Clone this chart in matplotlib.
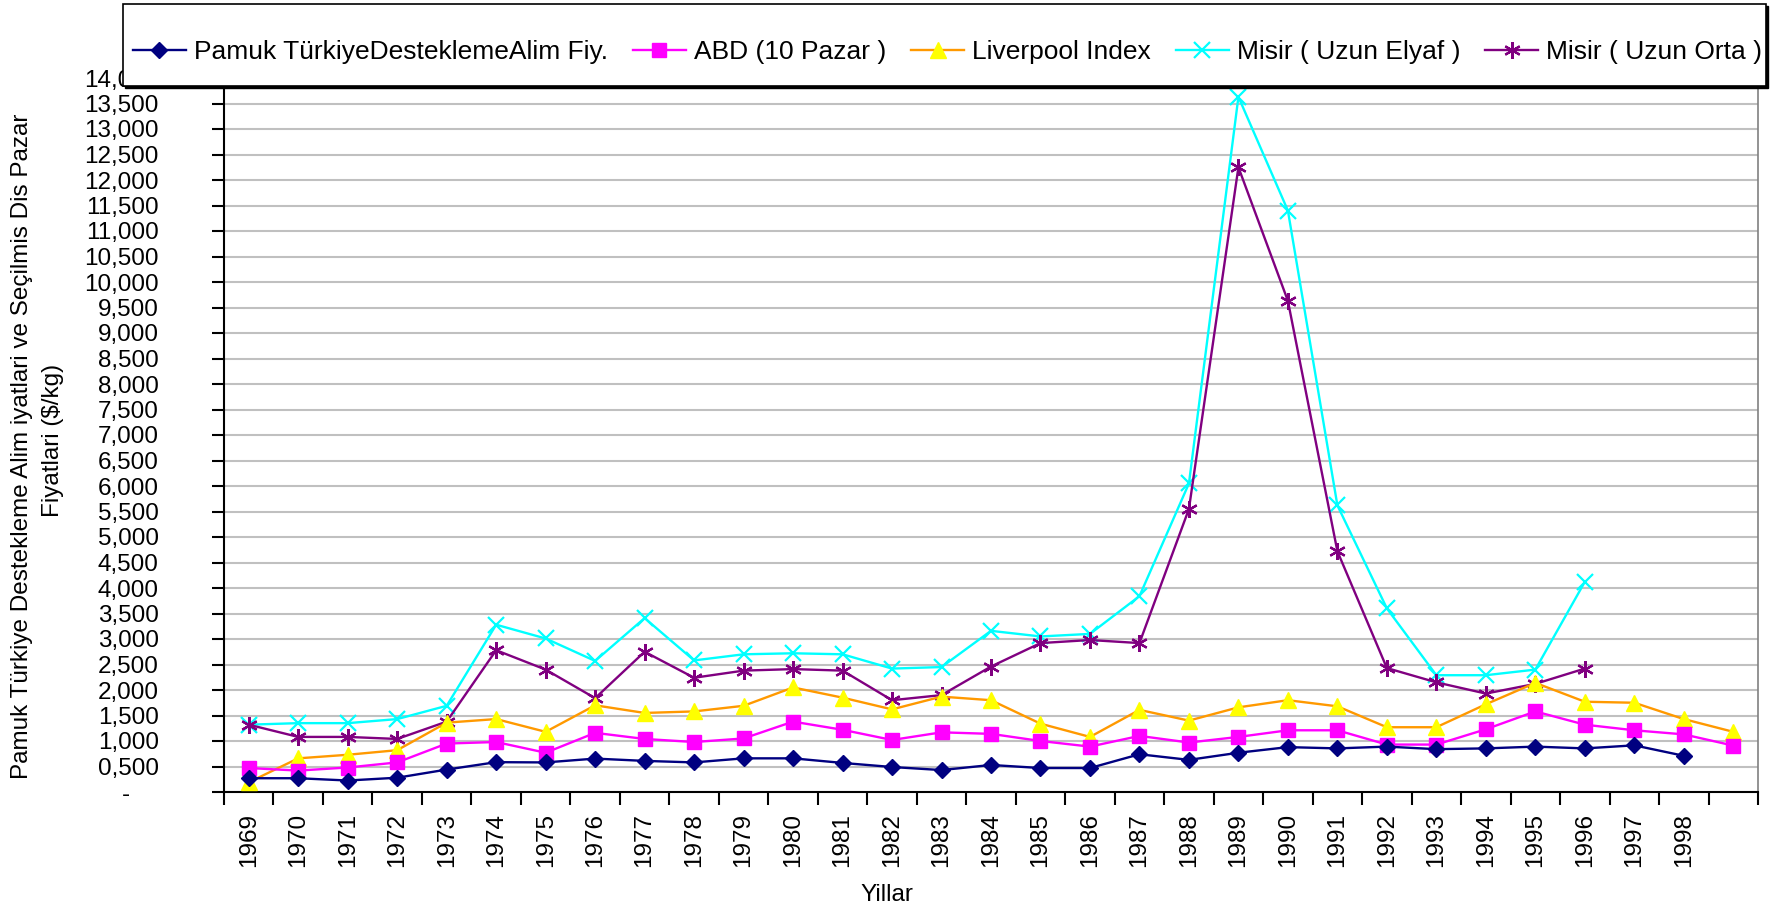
import matplotlib.pyplot as plt
import numpy as np
from matplotlib.patches import Rectangle
from matplotlib.transforms import ScaledTranslation

plt.rcParams['font.family'] = ['Liberation Sans', 'DejaVu Sans']

# yillar (son kategori etiketsiz)
years = [str(y) for y in range(1969, 1999)] + ['']

# $/kg
pamuk = [0.27, 0.27, 0.225, 0.28, 0.44, 0.585, 0.58, 0.655, 0.61, 0.58,
         0.66, 0.66, 0.57, 0.49, 0.43, 0.53, 0.47, 0.47, 0.74, 0.63,
         0.77, 0.88, 0.855, 0.89, 0.84, 0.855, 0.89, 0.855, 0.915, 0.71]
abd = [0.47, 0.42, 0.48, 0.58, 0.95, 0.98, 0.77, 1.16, 1.04, 0.98,
       1.05, 1.38, 1.22, 1.02, 1.17, 1.14, 1.0, 0.89, 1.10, 0.97,
       1.08, 1.21, 1.21, 0.93, 0.93, 1.23, 1.58, 1.32, 1.21, 1.13, 0.91]
liverpool = [0.19, 0.66, 0.73, 0.82, 1.36, 1.43, 1.18, 1.70, 1.55, 1.58,
             1.69, 2.05, 1.85, 1.62, 1.87, 1.80, 1.34, 1.08, 1.61, 1.40,
             1.66, 1.80, 1.68, 1.27, 1.27, 1.72, 2.14, 1.77, 1.75, 1.43, 1.18]
misir_elyaf = [1.32, 1.35, 1.35, 1.43, 1.69, 3.28, 3.01, 2.57, 3.41, 2.58,
               2.70, 2.72, 2.70, 2.42, 2.45, 3.16, 3.05, 3.10, 3.84, 6.05,
               13.63, 11.40, 5.62, 3.60, 2.29, 2.29, 2.40, 4.12]
misir_orta = [1.32, 1.08, 1.08, 1.04, 1.38, 2.78, 2.40, 1.84, 2.75, 2.24,
              2.38, 2.41, 2.38, 1.80, 1.90, 2.46, 2.92, 2.98, 2.92, 5.55,
              12.25, 9.63, 4.72, 2.43, 2.15, 1.93, 2.12, 2.42]

W, H = 1775, 910
fig = plt.figure(figsize=(W / 100, H / 100), dpi=100)
ax = fig.add_axes([224 / W, 1 - 792 / H, (1758 - 224) / W, (792 - 78) / H])

fs = 17.5
lw = 1.7

ax.plot(np.arange(len(pamuk)), pamuk, color='#000080', lw=lw, marker='D',
        markersize=8, label='Pamuk TürkiyeDesteklemeAlim Fiy.', clip_on=False, zorder=5)
ax.plot(np.arange(len(abd)), abd, color='#FF00FF', lw=lw, marker='s',
        markersize=9.5, label='ABD (10 Pazar )', clip_on=False, zorder=4)
ax.plot(np.arange(len(liverpool)), liverpool, color='#FF9900', lw=lw, marker='^',
        markersize=12, markerfacecolor='#FFFF00', markeredgecolor='#FFFF00',
        label='Liverpool Index', clip_on=False, zorder=3)
ax.plot(np.arange(len(misir_elyaf)), misir_elyaf, color='#00FFFF', lw=lw, marker='x',
        markersize=11, markeredgewidth=1.6, label='Misir ( Uzun Elyaf )', clip_on=False, zorder=2)
ax.plot(np.arange(len(misir_orta)), misir_orta, color='#800080', lw=lw, marker=(6, 2, 0),
        markersize=12, markeredgewidth=1.6, label='Misir ( Uzun Orta )', clip_on=False, zorder=2)

ax.set_xlim(-0.5, len(years) - 0.5)
ax.set_ylim(0, 14)

yt = np.arange(0, 14.01, 0.5)
ylabels = ['-'] + ['{:.3f}'.format(v).replace('.', ',') for v in yt[1:]]
ax.set_yticks(yt)
ax.set_yticklabels(ylabels, fontsize=fs)
ax.tick_params(axis='y', length=9, width=1.5, pad=38)

ax.set_xticks(np.arange(len(years)))
ax.set_xticklabels(years, rotation=90, fontsize=fs)
ax.set_xticks(np.arange(-0.5, len(years), 1), minor=True)
ax.tick_params(axis='x', which='major', length=0, pad=15)
ax.tick_params(axis='x', which='minor', length=9, width=1.5)

# "-" etiketini sola kaydir
zt = ax.yaxis.get_major_ticks()[0].label1
zt.set_transform(zt.get_transform() + ScaledTranslation(-0.29, 0, fig.dpi_scale_trans))

ax.yaxis.grid(True, color='#C0C0C0', lw=1.5)
ax.set_axisbelow(True)
for s in ['left', 'bottom']:
    ax.spines[s].set_color('black')
    ax.spines[s].set_linewidth(1.5)
for s in ['right', 'top']:
    ax.spines[s].set_color('#808080')
    ax.spines[s].set_linewidth(1.2)

fig.text(22 / W, 1 - 446 / H,
         'Pamuk Türkiye Destekleme Alim iyatlari ve Seçilmis Dis Pazar',
         rotation=90, ha='center', va='center', fontsize=fs)
fig.text(53 / W, 1 - 440 / H, 'Fiyatlari ($/kg)',
         rotation=90, ha='center', va='center', fontsize=fs)
fig.text(887 / W, 1 - 895 / H, 'Yillar', ha='center', va='center', fontsize=fs)

# legend kutusu
bx, by, bw, bh = 123 / W, 1 - 86 / H, (1766 - 123) / W, (86 - 4) / H
fig.patches.append(Rectangle((bx + 2 / W, by - 2 / H), bw, bh, transform=fig.transFigure,
                             facecolor='black', edgecolor='black', zorder=5))
fig.patches.append(Rectangle((bx, by), bw, bh, transform=fig.transFigure,
                             facecolor='white', edgecolor='black', lw=1.2, zorder=6))
leg = fig.legend(loc='center left', bbox_to_anchor=(133 / W, 1 - 52 / H, (1762 - 133) / W, 0),
                 mode='expand', ncol=5, frameon=False, fontsize=19, borderaxespad=0,
                 borderpad=0, handlelength=2.0, handletextpad=0.3, columnspacing=0.5)
leg.set_zorder(7)

fig.savefig('out.png', dpi=100)
